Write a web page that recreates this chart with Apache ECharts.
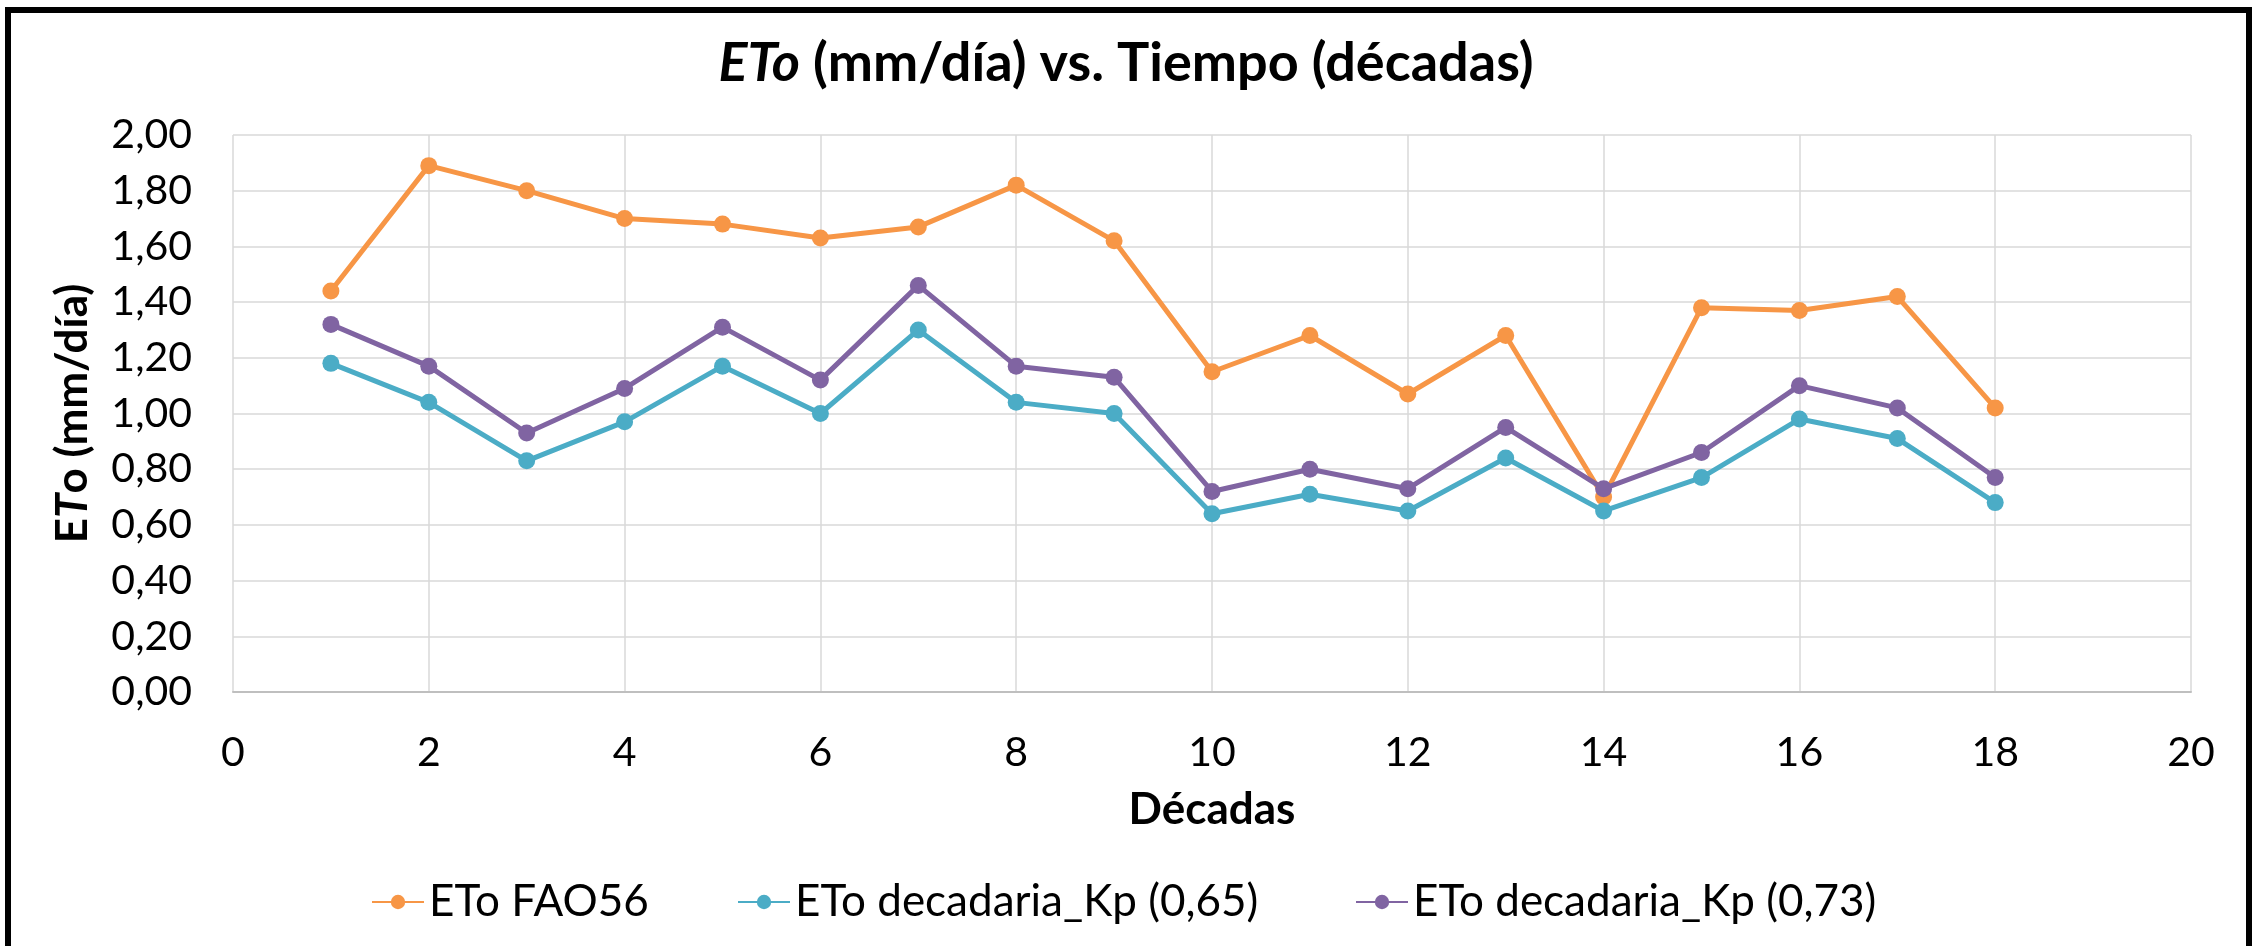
<!DOCTYPE html>
<html>
<head>
<meta charset="utf-8">
<script src="https://cdn.jsdelivr.net/npm/echarts@6/dist/echarts.min.js"></script>
<style>
  html, body { margin: 0; padding: 0; background: #fff; overflow: hidden; }
  #chart { position: absolute; left: 0; top: 0; width: 2252px; height: 946px; }
  #frame { position: absolute; left: 5px; top: 7px; width: 2235px; height: 1000px;
           border: 6px solid #000; pointer-events: none; }
</style>
</head>
<body>
<div id="chart"></div>
<div id="frame"></div>
<script>
// Décadas 1..18
const decades = [1, 2, 3, 4, 5, 6, 7, 8, 9, 10, 11, 12, 13, 14, 15, 16, 17, 18];

// ETo (mm/día)
const etoFao56 = [1.44, 1.89, 1.80, 1.70, 1.68, 1.63, 1.67, 1.82, 1.62, 1.15, 1.28, 1.07, 1.28, 0.70, 1.38, 1.37, 1.42, 1.02];
const etoKp065 = [1.18, 1.04, 0.83, 0.97, 1.17, 1.00, 1.30, 1.04, 1.00, 0.64, 0.71, 0.65, 0.84, 0.65, 0.77, 0.98, 0.91, 0.68];
const etoKp073 = [1.32, 1.17, 0.93, 1.09, 1.31, 1.12, 1.46, 1.17, 1.13, 0.72, 0.80, 0.73, 0.95, 0.73, 0.86, 1.10, 1.02, 0.77];

const seriesNames = ['ETo FAO56', 'ETo decadaria_Kp (0,65)', 'ETo decadaria_Kp (0,73)'];
const seriesColors = ['#F79646', '#4BACC6', '#8064A2'];
const seriesValues = [etoFao56, etoKp065, etoKp073];

const FONT = 'Lato, "Open Sans", sans-serif';

const chart = echarts.init(document.getElementById('chart'), null, { renderer: 'canvas' });

const legendLeft = [366, 732, 1350];

const option = {
  backgroundColor: '#ffffff',
  animation: false,
  textStyle: { fontFamily: FONT, color: '#000' },
  title: {
    text: '{it|ETo}{b| (mm/día) vs. Tiempo (décadas)}',
    left: 'center',
    top: 32,
    textStyle: {
      rich: {
        it: { fontFamily: FONT, fontSize: 54, fontWeight: 'bold', fontStyle: 'italic', color: '#000' },
        b: { fontFamily: FONT, fontSize: 54, fontWeight: 'bold', color: '#000' }
      }
    }
  },
  legend: seriesNames.map((name, i) => ({
    data: [name],
    left: legendLeft[i],
    top: 875,
    itemWidth: 52,
    itemHeight: 18,
    itemGap: 0,
    textStyle: { fontFamily: FONT, fontSize: 44, color: '#000', padding: [0, 0, 0, 0] }
  })),
  grid: { left: 233, right: 61, top: 135, bottom: 254, containLabel: false },
  xAxis: {
    type: 'value',
    min: 0,
    max: 20,
    interval: 2,
    name: 'Décadas',
    nameLocation: 'middle',
    nameGap: 96,
    nameTextStyle: { fontFamily: FONT, fontSize: 44, fontWeight: 'bold', color: '#000' },
    axisLine: { show: true, lineStyle: { color: '#BFBFBF', width: 2 } },
    axisTick: { show: false },
    axisLabel: { fontFamily: FONT, fontSize: 41, color: '#000', margin: 40 },
    splitLine: { show: true, lineStyle: { color: '#D9D9D9', width: 1.5 } }
  },
  yAxis: {
    type: 'value',
    min: 0,
    max: 2,
    interval: 0.2,
    name: '{e|E}{t|T}{e|o (mm/día)}',
    nameLocation: 'middle',
    nameGap: 138,
    nameRotate: 90,
    nameTextStyle: {
      rich: {
        e: { fontFamily: FONT, fontSize: 44, fontWeight: 'bold', color: '#000' },
        t: { fontFamily: FONT, fontSize: 44, fontWeight: 'bold', fontStyle: 'italic', color: '#000' }
      }
    },
    axisLine: { show: false },
    axisTick: { show: false },
    axisLabel: {
      fontFamily: FONT, fontSize: 41, color: '#000', margin: 41,
      formatter: v => v.toFixed(2).replace('.', ',')
    },
    splitLine: { show: true, lineStyle: { color: '#D9D9D9', width: 1.5 } }
  },
  series: seriesNames.map((name, i) => ({
    name: name,
    type: 'line',
    data: decades.map((d, k) => [d, seriesValues[i][k]]),
    symbol: 'circle',
    symbolSize: 17,
    color: seriesColors[i],
    lineStyle: { color: seriesColors[i], width: 5 },
    itemStyle: { color: seriesColors[i] }
  }))
};

chart.setOption(option);
</script>
</body>
</html>
